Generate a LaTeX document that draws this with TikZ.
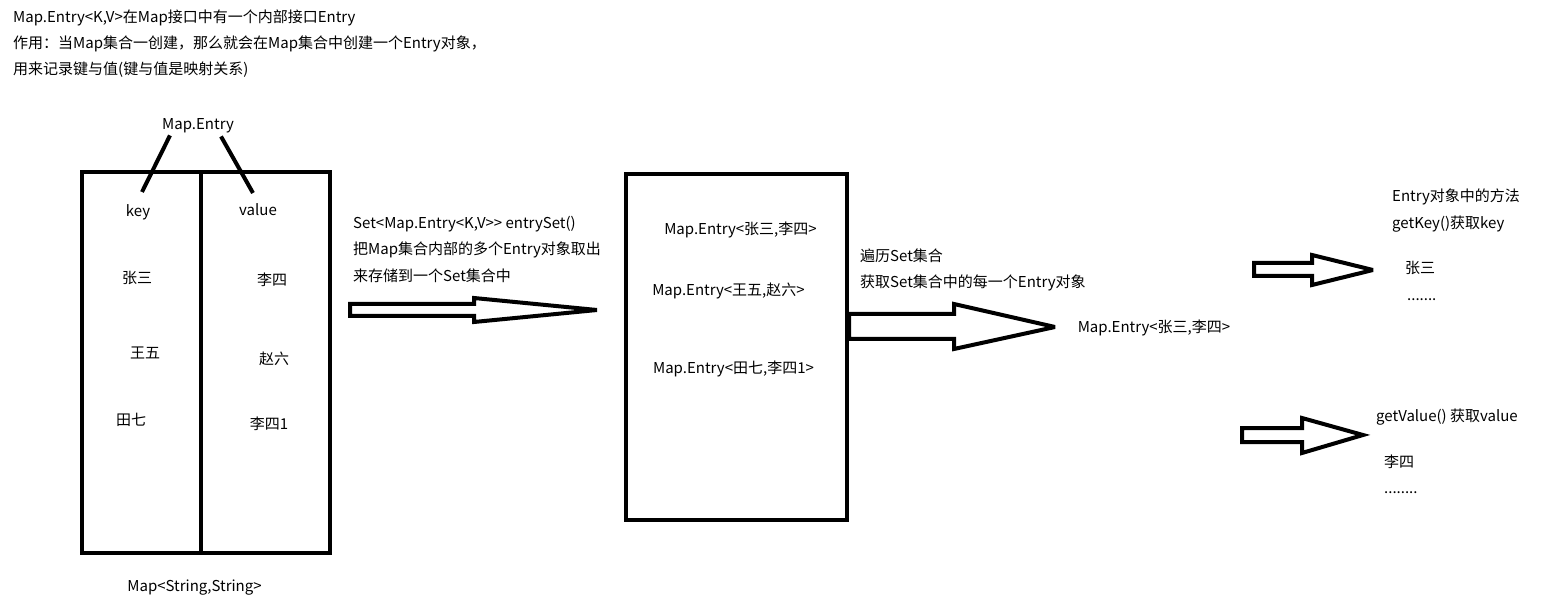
\documentclass[tikz,border=0pt]{standalone}
\usepackage{fontspec}
\newfontfamily\cjk{Noto Sans CJK SC}
\usetikzlibrary{positioning}

\begin{document}
\begin{tikzpicture}[
  x=1pt, y=-1pt,
  font=\cjk\fontsize{15}{17}\selectfont,
  lbl/.style  = {inner sep=0pt},
  ltx/.style  = {inner sep=0pt, anchor=west},
  thk/.style  = {line width=4pt},
  blk/.style  = {line width=4pt, miter limit=4, fill=white},
]
\useasboundingbox (0,0) rectangle (1542,609);

% header text
\node[ltx] (head1) at (13,18) {Map.Entry<K,V>在Map接口中有一个内部接口Entry};
\node[ltx] (head2) at (13,44) {作用：当Map集合一创建，那么就会在Map集合中创建一个Entry对象，};
\node[ltx] (head3) at (13,70) {用来记录键与值(键与值是映射关系)};

% the map
\def\mL{82} \def\mM{201} \def\mR{329.5}
\def\mT{172} \def\mB{553}
\draw[thk] (\mL,\mT) rectangle (\mR,\mB);
\draw[thk] (\mM,\mT) -- (\mM,\mB);

\node[lbl] (entry) at (198,126) {Map.Entry};
\coordinate (kEnd) at (142,192);
\coordinate (vEnd) at (253,193);
\draw[thk] ([xshift=8pt,yshift=-2pt]entry.south west) -- (kEnd);
\draw[thk] ([xshift=-13pt,yshift=-3pt]entry.south east) -- (vEnd);

\node[lbl] (key)   at (138,212) {key};
\node[lbl] (value) at (258,210) {value};
\node[lbl] (k1) at (137,278) {张三};
\node[lbl] (v1) at (272,280) {李四};
\node[lbl] (k2) at (145,353) {王五};
\node[lbl] (v2) at (274,359) {赵六};
\node[lbl] (k3) at (131,420) {田七};
\node[lbl] (v3) at (269,424) {李四1};
\node[lbl] (mapname) at (194.5,588) {Map<String,String>};

% entrySet
\node[ltx] (set1) at (353,224) {Set<Map.Entry<K,V>> entrySet()};
\node[ltx] (set2) at (353,250) {把Map集合内部的多个Entry对象取出};
\node[ltx] (set3) at (353,276) {来存储到一个Set集合中};

\draw[blk] (350,304) -- (474,304) -- (474,298) -- (597,310)
  -- (474,322) -- (474,316) -- (350,316) -- cycle;

% the set
\draw[thk] (626,174) rectangle (847,520);
\node[lbl] (e1) at (740.5,230) {Map.Entry<张三,李四>};
\node[lbl] (e2) at (728.5,291) {Map.Entry<王五,赵六>};
\node[lbl] (e3) at (733.5,369) {Map.Entry<田七,李四1>};

% iterate
\node[ltx] (it1) at (860,256) {遍历Set集合};
\node[ltx] (it2) at (860,283) {获取Set集合中的每一个Entry对象};

\draw[blk] (849,314) -- (954,314) -- (954,304) -- (1055,327)
  -- (954,349) -- (954,339) -- (849,339) -- cycle;

\node[lbl] (one) at (1154,328) {Map.Entry<张三,李四>};

% getKey
\node[ltx] (m1) at (1392,197) {Entry对象中的方法};
\node[ltx] (m2) at (1392,224) {getKey()获取key};

\draw[blk] (1254,263) -- (1312,263) -- (1312,255) -- (1373,270)
  -- (1312,285) -- (1312,276) -- (1254,276) -- cycle;

\node[lbl] (kres) at (1420,268) {张三};
\node[inner sep=0pt, anchor=base west] (kdots) at (1407,301) {.......};

% getValue
\node[ltx] (m3) at (1376,417) {getValue() 获取value};

\draw[blk] (1242,428) -- (1302,428) -- (1302,418) -- (1363,435)
  -- (1302,453) -- (1302,442) -- (1242,442) -- cycle;

\node[lbl] (vres) at (1399,462) {李四};
\node[inner sep=0pt, anchor=base west] (vdots) at (1384,493) {........};

\end{tikzpicture}
\end{document}
